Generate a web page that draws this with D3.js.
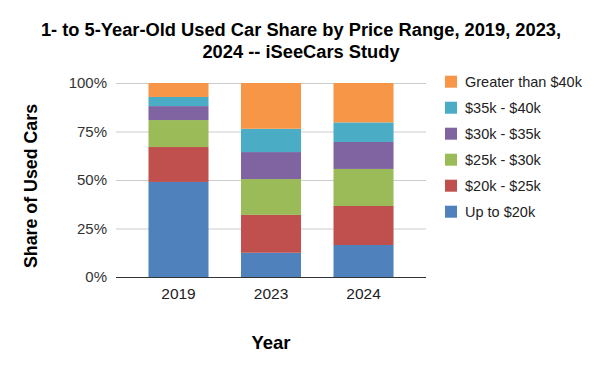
<!DOCTYPE html>
<html><head><meta charset="utf-8">
<script src="https://cdn.jsdelivr.net/npm/d3@7"></script>
<style>body{margin:0;background:#fff}svg{display:block;font-family:"Liberation Sans",Arial,sans-serif}</style>
</head><body><svg id="c" width="600" height="371"></svg>
<script>
const years = ["2019", "2023", "2024"];
const seriesNames = ["Up to $20k", "$20k - $25k", "$25k - $30k", "$30k - $35k", "$35k - $40k", "Greater than $40k"];
const seriesColors = ["#4F81BD", "#C0504D", "#9BBB59", "#8064A2", "#4BACC6", "#F79646"];
const upTo20k = [49.0, 12.5, 16.5];
const k20to25 = [18.0, 19.5, 20.1];
const k25to30 = [13.9, 18.5, 19.1];
const k30to35 = [7.2, 13.9, 13.9];
const k35to40 = [4.7, 12.0, 10.1];
const over40k = [7.2, 23.6, 20.3];
const yTicks = [0, 25, 50, 75, 100];

const seriesValues = [upTo20k, k20to25, k25to30, k30to35, k35to40, over40k];
const rows = years.map((y, i) => {
  const r = {year: y};
  seriesNames.forEach((s, j) => r[s] = seriesValues[j][i]);
  return r;
});
const stacked = d3.stack().keys(seriesNames)(rows);

const svg = d3.select("#c");
const m = {left: 116, right: 174, top: 83, bottom: 94};
const W = 600, H = 371;
const x = d3.scaleBand().domain(years).range([m.left, W - m.right]).paddingInner(0.351).paddingOuter(0.351);
const y = d3.scaleLinear().domain([0, 100]).range([H - m.bottom, m.top]);

// gridlines
svg.append("g").selectAll("line").data(yTicks.filter(d => d > 0)).join("line")
  .attr("x1", m.left).attr("x2", W - m.right)
  .attr("y1", d => y(d) + 0.5).attr("y2", d => y(d) + 0.5)
  .attr("stroke", "#cccccc").attr("stroke-width", 1);

// y axis labels
const yAxis = d3.axisLeft(y).tickValues(yTicks).tickFormat(d => d + "%").tickSize(0).tickPadding(9);
const ga = svg.append("g").attr("transform", `translate(${m.left},0)`).call(yAxis);
ga.select(".domain").remove();
ga.selectAll("text").attr("font-size", 15).attr("fill", "#333").attr("font-family", "Liberation Sans, Arial, sans-serif");

// bars
svg.append("g").selectAll("g").data(stacked).join("g")
  .attr("fill", (d, i) => seriesColors[i])
  .selectAll("rect").data(d => d).join("rect")
  .attr("x", d => x(d.data.year))
  .attr("width", x.bandwidth())
  .attr("y", d => y(d[1]))
  .attr("height", d => y(d[0]) - y(d[1]));

// baseline
svg.append("line").attr("x1", m.left).attr("x2", W - m.right)
  .attr("y1", y(0) + 0.5).attr("y2", y(0) + 0.5).attr("stroke", "#333").attr("stroke-width", 1);

// x axis labels
const xAxis = d3.axisBottom(x).tickSize(0).tickPadding(11);
const gx = svg.append("g").attr("transform", `translate(0,${y(0)})`).call(xAxis);
gx.select(".domain").remove();
gx.selectAll("text").attr("font-size", 15.5).attr("fill", "#222").attr("font-family", "Liberation Sans, Arial, sans-serif");

// titles
const title = svg.append("text").attr("text-anchor", "middle").attr("font-weight", "bold").attr("font-size", 18.3).attr("fill", "#000");
title.append("tspan").attr("x", 301).attr("y", 36).text("1- to 5-Year-Old Used Car Share by Price Range, 2019, 2023,");
title.append("tspan").attr("x", 301).attr("y", 58).text("2024 -- iSeeCars Study");

svg.append("text").attr("x", (m.left + W - m.right) / 2).attr("y", 349).attr("text-anchor", "middle")
  .attr("font-weight", "bold").attr("font-size", 18.5).text("Year");

svg.append("text").attr("transform", `translate(37,${(m.top + H - m.bottom) / 2 + 6}) rotate(-90)`)
  .attr("text-anchor", "middle").attr("font-weight", "bold").attr("font-size", 17.8).text("Share of Used Cars");

// legend (reverse order)
const legendItems = seriesNames.map((s, i) => ({name: s, color: seriesColors[i]})).reverse();
const lg = svg.append("g").selectAll("g").data(legendItems).join("g")
  .attr("transform", (d, i) => `translate(445,${81.7 + i * 26})`);
lg.append("rect").attr("x", 0).attr("y", -6).attr("width", 12).attr("height", 12).attr("fill", d => d.color);
lg.append("text").attr("x", 20).attr("y", 0).attr("dy", "0.35em").attr("font-size", 14.5).attr("fill", "#222").text(d => d.name);
</script></body></html>
